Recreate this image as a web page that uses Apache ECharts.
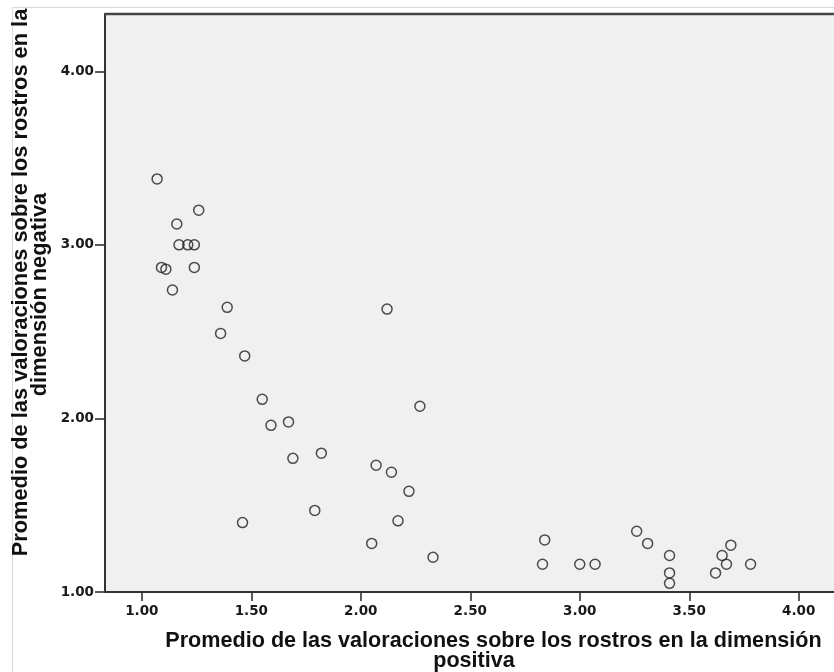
<!DOCTYPE html>
<html>
<head>
<meta charset="utf-8">
<script src="https://cdn.jsdelivr.net/npm/echarts@6/dist/echarts.min.js"></script>
<style>
html,body{margin:0;padding:0;background:#fff;}
#c{width:834px;height:672px;}
</style>
</head>
<body>
<div id="c"></div>
<script>
// Promedio dimensión positiva (x)
var xValues = [1.07,1.26,1.16,1.17,1.21,1.24,1.09,1.11,1.24,1.14,1.39,
  1.36,1.47,1.55,1.59,1.46,
  2.12,1.67,2.27,1.69,1.82,2.07,2.14,2.22,1.79,2.17,2.05,2.33,
  2.84,2.83,3.00,3.07,3.26,3.31,3.41,3.41,3.41,3.65,3.69,3.67,3.62,3.78];
// Promedio dimensión negativa (y)
var yValues = [3.38,3.20,3.12,3.00,3.00,3.00,2.87,2.86,2.87,2.74,2.64,
  2.49,2.36,2.11,1.96,1.40,
  2.63,1.98,2.07,1.77,1.80,1.73,1.69,1.58,1.47,1.41,1.28,1.20,
  1.30,1.16,1.16,1.16,1.35,1.28,1.21,1.11,1.05,1.21,1.27,1.16,1.11,1.16];
var xTicks = [1.0,1.5,2.0,2.5,3.0,3.5,4.0];
var yTicks = [1.0,2.0,3.0,4.0];
var xTitle1 = 'Promedio de las valoraciones sobre los rostros en la dimensión';
var xTitle2 = 'positiva';
var yTitle1 = 'Promedio de las valoraciones sobre los rostros en la';
var yTitle2 = 'dimensión negativa';

var points = xValues.map(function(x,i){return [x,yValues[i]];});
var chart = echarts.init(document.getElementById('c'));
var tickFont = {fontFamily:'DejaVu Sans',fontWeight:'bold',fontSize:13.5,color:'#1a1a1a'};
var titleFont = '"Liberation Sans", Arial, sans-serif';
var XMIN = 0.832, XMAX = 4.161;
chart.setOption({
  animation:false,
  backgroundColor:'#ffffff',
  grid:{left:105,right:0,top:14,bottom:80,show:true,backgroundColor:'#f0f0f0',borderWidth:0},
  xAxis:[{
    type:'value',min:XMIN,max:XMAX,position:'bottom',
    axisLine:{show:true,lineStyle:{color:'#333',width:2}},
    axisTick:{show:true,length:9,customValues:xTicks,lineStyle:{color:'#333',width:1.6}},
    axisLabel:Object.assign({margin:12,customValues:xTicks,formatter:function(v){return v.toFixed(2);}},tickFont),
    splitLine:{show:false}
  },{
    type:'value',min:XMIN,max:XMAX,position:'top',
    axisLine:{show:true,lineStyle:{color:'#444',width:2.4}},
    axisTick:{show:false},axisLabel:{show:false},splitLine:{show:false}
  }],
  yAxis:{
    type:'value',min:1.0,max:4.33,
    axisLine:{show:true,lineStyle:{color:'#333',width:2}},
    axisTick:{show:true,length:10,customValues:yTicks,lineStyle:{color:'#333',width:1.6}},
    axisLabel:Object.assign({margin:11,customValues:yTicks,formatter:function(v){return v.toFixed(2);}},tickFont),
    splitLine:{show:false}
  },
  series:[{
    type:'scatter',data:points,symbol:'circle',symbolSize:10,xAxisIndex:0,
    itemStyle:{color:'rgba(0,0,0,0)',borderColor:'#222',borderWidth:1.5}
  }],
  graphic:[
    {type:'line',shape:{x1:12.5,y1:7.5,x2:834,y2:7.5},style:{stroke:'#d9d9d9',lineWidth:1},z:-1},
    {type:'line',shape:{x1:12.5,y1:7.5,x2:12.5,y2:672},style:{stroke:'#d9d9d9',lineWidth:1},z:-1},
    {type:'text',x:493.5,y:641.5,style:{text:xTitle1,fontFamily:titleFont,fontWeight:'bold',fontSize:21.6,fill:'#111',textAlign:'center',textVerticalAlign:'middle'}},
    {type:'text',x:474,y:661.5,style:{text:xTitle2,fontFamily:titleFont,fontWeight:'bold',fontSize:21.6,fill:'#111',textAlign:'center',textVerticalAlign:'middle'}},
    {type:'text',x:20.8,y:282.5,rotation:Math.PI/2,style:{text:yTitle1,fontFamily:titleFont,fontWeight:'bold',fontSize:21.8,fill:'#111',textAlign:'center',textVerticalAlign:'middle'}},
    {type:'text',x:40,y:294.5,rotation:Math.PI/2,style:{text:yTitle2,fontFamily:titleFont,fontWeight:'bold',fontSize:21.8,fill:'#111',textAlign:'center',textVerticalAlign:'middle'}}
  ]
});
</script>
</body>
</html>
